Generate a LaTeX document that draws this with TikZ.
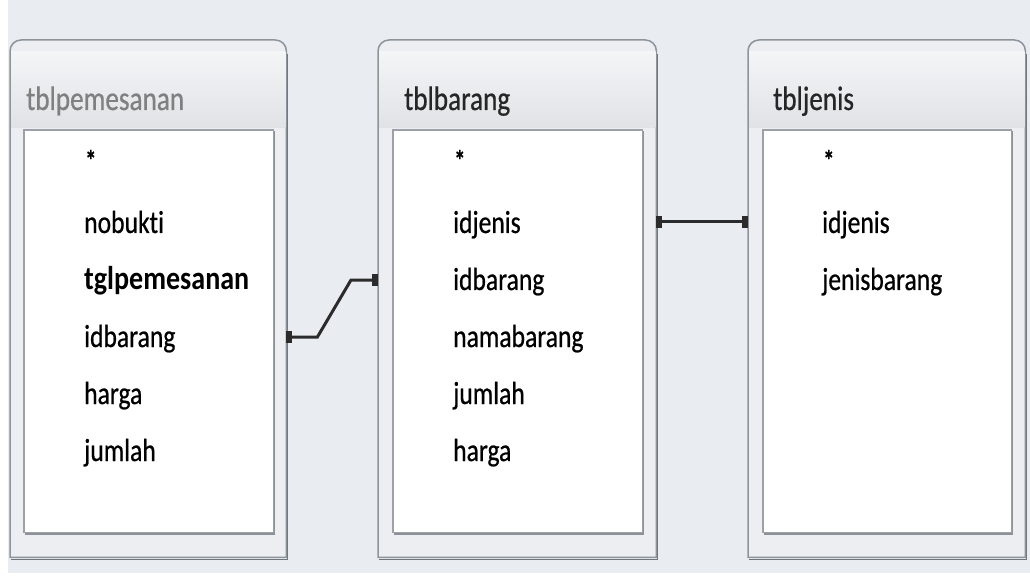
\documentclass[tikz,border=0pt]{standalone}
\usepackage{fontspec}
\newfontfamily\fieldfont{Carlito}[FakeStretch=0.8,FakeBold=0.6,Ligatures=NoCommon]
\newfontfamily\boldfieldfont{Carlito}[FakeStretch=0.85,Ligatures=NoCommon,UprightFont=*-Bold]
\usetikzlibrary{arrows.meta,calc}
\definecolor{bgc}{HTML}{E9EDF1}
\definecolor{boxc}{HTML}{ECEEF1}
\definecolor{edgec}{HTML}{8E949C}
\definecolor{shadc}{HTML}{6F757D}
\definecolor{innerc}{HTML}{9CA1A8}
\definecolor{connc}{HTML}{2B2B2B}
\tikzset{
  tablebox/.style={draw=none,minimum width=#1,minimum height=517pt,inner sep=0pt,anchor=north west},
  innerbox/.style={draw=none,fill=white,minimum width=#1,minimum height=402pt,inner sep=0pt,anchor=north west},
  ttl/.style={anchor=base west,inner sep=0pt,font=\fieldfont\fontsize{34}{38}\selectfont,text=#1},
  fld/.style={anchor=base west,inner sep=0pt,font=\fieldfont\fontsize{32}{36}\selectfont,text=black},
  star/.style={anchor=base west,inner sep=0pt,font=\fieldfont\bfseries\fontsize{28}{30}\selectfont,text=black},
  conn/.style={draw=connc,line width=3pt,
     arrows={Rectangle[length=6pt,width=12pt]-Rectangle[length=6pt,width=12pt]}},
}
\newcommand{\tableshape}[1]{%
  \draw[shadc,line width=1.6pt] ([shift={(1pt,-2pt)}]#1.south west) -- ([shift={(1pt,-2pt)}]#1.south east) -- ([shift={(1pt,-14pt)}]#1.north east);
  \path[fill=boxc,draw=edgec,line width=1.5pt]
    (#1.south west) -- ([yshift=-11pt]#1.north west)
    arc[start angle=180,end angle=90,radius=11pt]
    -- ([xshift=-11pt]#1.north east)
    arc[start angle=90,end angle=0,radius=11pt]
    -- (#1.south east) -- cycle;
  \fill[top color=white!40!boxc,bottom color=boxc!95!black]
    ([shift={(1pt,-12pt)}]#1.north west) rectangle ([shift={(-1pt,-88pt)}]#1.north east);
}
\newcommand{\innershape}[1]{%
  \draw[shadc!80,line width=1.6pt] ([shift={(1pt,-1.5pt)}]#1.south west) -- ([shift={(1pt,-1.5pt)}]#1.south east) -- ([shift={(1pt,-1.5pt)}]#1.north east);
  \draw[innerc,line width=1.4pt,fill=white] (#1.south west) rectangle (#1.north east);
}
\begin{document}
\begin{tikzpicture}[x=1pt,y=1pt]
\useasboundingbox (0,0) rectangle (1030,-577);
\fill[white] (0,0) rectangle (1030,-577);
\fill[bgc] (8,0) rectangle (1030,-573);

% table frames
\node[tablebox=276pt] (t1) at (10,-40) {};
\node[tablebox=278pt] (t2) at (378,-40) {};
\node[tablebox=277pt] (t3) at (748,-40) {};
\tableshape{t1}
\tableshape{t2}
\tableshape{t3}
\node[innerbox=249pt] (i1) at (24,-130) {};
\node[innerbox=249pt] (i2) at (393,-130) {};
\node[innerbox=248pt] (i3) at (763,-130) {};
\innershape{i1}
\innershape{i2}
\innershape{i3}

% titles
\node[ttl=black!50] (h1) at (26,-110) {tblpemesanan};
\node[ttl=black!85] (h2) at (404,-110) {tblbarang};
\node[ttl=black!85] (h3) at (773,-110) {tbljenis};

% fields table 1
\node[star] (a0) at (85,-170) {*};
\node[fld] (a1) at (84,-233) {nobukti};
\node[fld,font=\boldfieldfont\fontsize{33}{36}\selectfont] (a2) at (84,-290) {tglpemesanan};
\node[fld] (a3) at (84,-347) {idbarang};
\node[fld] (a4) at (84,-404) {harga};
\node[fld] (a5) at (84,-461) {jumlah};
% fields table 2
\node[star] (b0) at (454,-170) {*};
\node[fld] (b1) at (453,-233) {idjenis};
\node[fld] (b2) at (453,-290) {idbarang};
\node[fld] (b3) at (453,-347) {namabarang};
\node[fld] (b4) at (453,-404) {jumlah};
\node[fld] (b5) at (453,-461) {harga};
% fields table 3
\node[star] (c0) at (823,-170) {*};
\node[fld] (c1) at (822,-233) {idjenis};
\node[fld] (c2) at (822,-290) {jenisbarang};

% connector anchors
\coordinate (p1) at (0,-337);
\coordinate (p2) at (0,-280);
\coordinate (p3) at (0,-222);
\draw[conn] (t1.east |- p1) -- ++(31,0) -- ([xshift=-27pt]t2.west |- p2) -- (t2.west |- p2);
\draw[conn] (t2.east |- p3) -- (t3.west |- p3);
\end{tikzpicture}
\end{document}
